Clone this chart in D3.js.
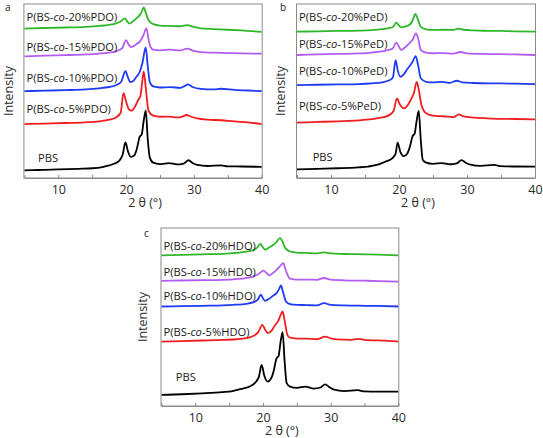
<!DOCTYPE html>
<html>
<head>
<meta charset="utf-8">
<script src="https://cdn.jsdelivr.net/npm/d3@7"></script>
<style>
  html, body { margin: 0; padding: 0; background: #fff; }
  svg { display: block; font-family: "Open Sans", "DejaVu Sans", sans-serif; }
</style>
</head>
<body>
<svg id="chart" width="543" height="438"></svg>
<script>
// ---------------- DATA ----------------
const panelIds = ["a", "b", "c"];
const seriesNames = ["PBS", "5", "10", "15", "20"];
const xTickValues = [5, 10, 15, 20, 25, 30, 35, 40];
const xTickLabels = [10, 20, 30, 40];
const xDomain = [5, 40];
const yDomain = [0, 100];

// Panel a: PDO copolymers  [2θ, intensity (stacked, a.u.)]
const a_PBS = [[5,4.4],[7,4.6],[10,4.9],[13,5.3],[15,5.6],[16.5,6.3],[17.5,7.2],[18.3,8.3],[19.0,10.0],[19.5,13.5],[19.9,20.4],[20.3,15.0],[20.7,12.1],[21.2,13.0],[21.6,17.0],[22.0,23.7],[22.3,25.0],[22.6,33],[22.9,38.7],[23.2,22],[23.5,11.7],[24.0,8.8],[25.0,8.0],[26.3,8.6],[27.5,7.8],[28.5,8.3],[29.2,10.2],[29.8,8.6],[30.5,7.5],[32,6.9],[34,7.3],[35,6.7],[37,6.6],[40,6.4]];
const a_5 = [[5,31.0],[8,31.3],[11,31.6],[14,32.0],[16,32.6],[17.5,33.5],[18.5,34.8],[19.2,37.5],[19.6,48.7],[20.0,44],[20.4,39.5],[20.8,38.7],[21.3,41],[21.8,45],[22.1,47],[22.4,56],[22.6,61.3],[22.9,52],[23.3,38.7],[24,35.8],[25,35.2],[26.5,35.3],[27.5,34.8],[28.3,35.3],[28.9,36.2],[29.6,35.2],[30.5,34.2],[32,33.5],[34,33.2],[36,32.5],[38,32.0],[40,31.0]];
const a_10 = [[5,49.9],[8,50.2],[11,50.5],[14,50.9],[16,51.5],[17.5,52.3],[18.5,53.3],[19.3,55.5],[19.9,61.4],[20.3,57.5],[20.6,55.1],[21.0,55.6],[21.5,58],[22.0,60.9],[22.4,66],[22.9,75.0],[23.2,64],[23.5,55.1],[24,52.6],[25,52.0],[26.5,52.2],[28,51.8],[28.6,52.8],[29.1,53.8],[29.8,52.3],[31,51.2],[33,50.9],[34,51.3],[36,50.6],[38,50.3],[40,49.9]];
const a_15 = [[5,69.9],[8,70.3],[11,70.6],[14,71.0],[16,71.5],[17.5,72.1],[18.5,72.8],[19.4,74.5],[20.0,79.2],[20.4,76.5],[20.7,75.3],[21.2,76],[21.6,77.2],[22.0,78.2],[22.5,81.5],[23.0,86.0],[23.3,80],[23.6,75.3],[24,73.8],[25,73.4],[26.5,73.8],[28,73.3],[29,74.4],[30,73.0],[31,72.3],[33,72.0],[35,71.8],[37,71.6],[40,71.5]];
const a_20 = [[5,85.9],[8,86.2],[11,86.5],[14,86.9],[16,87.4],[17.5,88.0],[18.5,88.8],[19.2,90.0],[19.8,91.7],[20.2,89.8],[20.5,88.8],[21.0,90.0],[21.5,91.7],[22.0,93.6],[22.3,95.5],[22.6,98.1],[22.9,95],[23.3,90.8],[24,88.4],[25,87.6],[26.5,87.4],[28,87.2],[29,87.9],[30,86.8],[31,86.0],[33,85.6],[35,85.2],[37,84.8],[40,84.0]];

// Panel b: PeD copolymers
const b_PBS = [[5,5.0],[8,5.3],[11,5.6],[14,6.1],[15.5,6.6],[17,7.8],[18,9.4],[19,11.3],[19.5,14],[19.8,20.3],[20.2,15],[20.7,12.6],[21.2,14],[21.6,18],[22.0,24.1],[22.3,25.5],[22.6,33],[22.9,38.5],[23.2,22],[23.5,10.3],[24,8.8],[25,8.1],[26.3,8.6],[27.5,7.9],[28.5,8.4],[29.2,10.3],[29.8,8.8],[30.5,7.7],[32,7.0],[34,7.5],[35,6.8],[37,6.6],[40,6.5]];
const b_5 = [[5,31.8],[8,32.2],[11,32.6],[14,33.1],[16,33.8],[17.5,34.8],[18.5,36],[19.2,38.5],[19.7,45.8],[20.1,42.5],[20.7,40.0],[21.3,42],[21.8,45.5],[22.2,49],[22.6,55.3],[22.9,51],[23.3,42.0],[24,37.2],[25,35.8],[26.5,35.5],[28,35.0],[28.8,36.6],[29.5,35.4],[31,34.7],[33,34.3],[35,34.0],[37,33.9],[40,33.7]];
const b_10 = [[5,53.4],[8,53.6],[11,53.8],[14,54.0],[16,54.4],[17.5,55.0],[18.5,56],[19.1,57.8],[19.5,67.8],[19.8,62],[20.2,58.2],[20.7,59.5],[21.2,62.5],[21.6,64.5],[22.0,66.8],[22.45,70.1],[22.8,65],[23.2,57.3],[24,55.3],[25,55.0],[26.3,55.3],[27.5,54.7],[28.5,55.9],[29.3,55.0],[31,54.6],[33,54.4],[35,54.4],[37,54.2],[40,54.0]];
const b_15 = [[5,70.7],[8,71.0],[11,71.3],[14,71.6],[16,72.1],[17.5,72.8],[18.5,73.6],[19.1,74.6],[19.6,77.8],[20.0,75.5],[20.3,73.6],[20.8,74.8],[21.5,77.4],[22.0,79.5],[22.5,83.1],[22.8,80.5],[23.2,73.6],[24,72.0],[25,71.7],[26.5,71.8],[28,71.5],[29,72.4],[30,71.6],[32,71.3],[35,71.2],[37,71.0],[40,70.7]];
const b_20 = [[5,84.1],[8,84.3],[11,84.5],[14,84.7],[16,85.0],[17.5,85.5],[18.5,86.1],[19.1,86.8],[19.6,89.3],[20.0,87.5],[20.3,86.6],[21.0,87.2],[21.6,88.2],[22.0,90.5],[22.4,94.3],[22.7,92],[23.2,86.9],[24,85.4],[25,85.1],[26.5,85.2],[28,85.1],[28.7,85.9],[29.5,85.2],[31,84.8],[33,84.6],[35,84.5],[37,84.3],[40,84.1]];

// Panel c: HDO copolymers
const c_PBS = [[5,6.2],[8,6.6],[11,7.1],[14,7.8],[15.5,8.4],[17,9.8],[18,10.9],[19,13.7],[19.4,16.5],[19.8,23.1],[20.2,17],[20.7,13.7],[21.2,15.5],[21.6,20],[22.0,26.8],[22.3,28],[22.6,36],[22.9,41.5],[23.2,25],[23.5,12.8],[24,10.9],[25,10.2],[26.3,10.9],[27.5,9.8],[28.5,10.4],[29.2,12.2],[29.8,10.6],[30.5,9.2],[32,8.4],[34,8.9],[35,8.2],[37,8.1],[40,8.1]];
const c_5 = [[5,36.2],[8,36.5],[11,36.8],[14,37.1],[16,37.5],[17.5,38.1],[18.5,39.2],[19.3,41.5],[19.9,45.6],[20.3,43],[20.7,40.9],[21.3,42.5],[21.8,45.5],[22.2,47.4],[22.6,51],[22.9,53.1],[23.2,48],[23.6,40.0],[24,38.4],[25,37.9],[26.5,37.8],[28,37.5],[29.2,39.0],[30,38.0],[31,37.4],[33,37.2],[34,37.7],[35.5,37.0],[38,36.7],[40,36.2]];
const c_10 = [[5,55.9],[8,56.1],[11,56.3],[14,56.5],[16,56.9],[17.5,57.4],[18.5,58.2],[19.2,59.6],[19.7,62.5],[20.0,60.5],[20.3,59.1],[20.9,60.2],[21.5,62.0],[22.0,63.4],[22.35,65.5],[22.65,67.7],[23.0,63.5],[23.4,58.7],[24,57.2],[25,56.8],[26.5,56.7],[28,56.5],[29,57.8],[30,56.8],[32,56.5],[35,56.3],[37,56.2],[40,55.9]];
const c_15 = [[5,70.3],[8,70.5],[11,70.7],[14,70.9],[16,71.3],[17.5,71.9],[18.5,72.7],[19.3,74.0],[20.1,76.0],[20.5,74.8],[20.9,73.4],[21.5,74.8],[22.0,76.5],[22.5,78.5],[23.0,80.3],[23.3,77],[23.7,73.1],[24,71.5],[25,71.0],[26.5,71.0],[28,70.9],[29,71.9],[30,71.0],[32,70.6],[35,70.4],[37,70.2],[40,69.9]];
const c_20 = [[5,84.6],[8,84.9],[11,85.2],[14,85.5],[16,86.0],[17.5,86.7],[18.5,87.6],[19.1,88.8],[19.6,91.0],[20.0,89.2],[20.3,87.8],[20.9,89.0],[21.5,90.5],[22.0,92.1],[22.5,94.3],[22.8,93],[23.3,88.7],[24,86.8],[25,86.2],[26.5,86.0],[28,85.8],[29,86.3],[30,85.7],[32,85.4],[35,85.2],[37,85.0],[40,84.6]];

const comonomers = ["PDO", "PeD", "HDO"];
const curveLabels_a = ["PBS", "P(BS-co-5%PDO)", "P(BS-co-10%PDO)", "P(BS-co-15%PDO)", "P(BS-co-20%PDO)"];
const curveLabels_b = ["PBS", "P(BS-co-5%PeD)", "P(BS-co-10%PeD)", "P(BS-co-15%PeD)", "P(BS-co-20%PeD)"];
const curveLabels_c = ["PBS", "P(BS-co-5%HDO)", "P(BS-co-10%HDO)", "P(BS-co-15%HDO)", "P(BS-co-20%HDO)"];
// label anchor values [2θ, intensity]
const labelPos_a = [[7.0, 11.5], [5.3, 39.5], [5.3, 57.5], [5.3, 75.5], [5.3, 92.5]];
const labelPos_b = [[7.3, 12.0], [5.3, 41.5], [5.3, 61.5], [5.3, 77.0], [5.3, 92.5]];
const labelPos_c = [[7.1, 16.0], [5.3, 41.5], [5.3, 61.5], [5.3, 75.5], [5.3, 90.0]];

const xTitle = "2 θ (°)";
const yTitle = "Intensity";

// ---------------- STYLE / LAYOUT ----------------
const colors = ["#000000", "#f01e1e", "#1f3af5", "#b35cf2", "#2fb72a"];
const frameColor = "#8a8a8a";
const layout = {
  a: { x0: 24.4, x1: 261.7, top: 4, bottom: 178, letter: [5, 11], ylab: [9, 91] },
  b: { x0: 297, x1: 535, top: 4, bottom: 178, letter: [280, 11], ylab: [281, 91] },
  c: { x0: 161.5, x1: 398.3, top: 228, bottom: 406, letter: [144, 237], ylab: [143, 317] }
};
const panelData = {
  a: { series: [a_PBS, a_5, a_10, a_15, a_20], labels: curveLabels_a, pos: labelPos_a },
  b: { series: [b_PBS, b_5, b_10, b_15, b_20], labels: curveLabels_b, pos: labelPos_b },
  c: { series: [c_PBS, c_5, c_10, c_15, c_20], labels: curveLabels_c, pos: labelPos_c }
};

const svg = d3.select("#chart");

panelIds.forEach(id => {
  const L = layout[id];
  const P = panelData[id];
  const x = d3.scaleLinear().domain(xDomain).range([L.x0, L.x1]);
  const y = d3.scaleLinear().domain(yDomain).range([L.bottom, L.top]);
  const g = svg.append("g");

  // curves
  const line = d3.line().x(d => x(d[0])).y(d => y(d[1])).curve(d3.curveMonotoneX);
  P.series.forEach((s, i) => {
    g.append("path").datum(s)
      .attr("d", line)
      .attr("fill", "none")
      .attr("stroke", colors[i])
      .attr("stroke-width", 1.8)
      .attr("stroke-linejoin", "round");
  });

  // frame
  g.append("rect")
    .attr("x", L.x0 - 0.5).attr("y", L.top)
    .attr("width", L.x1 - L.x0 + 1).attr("height", L.bottom - L.top)
    .attr("fill", "none").attr("stroke", frameColor).attr("stroke-width", 1);

  // x axis
  const ax = d3.axisBottom(x)
    .tickValues(xTickValues)
    .tickSizeInner(-3).tickSizeOuter(0).tickPadding(7)
    .tickFormat(d => xTickLabels.includes(d) ? String(d) : "");
  const axg = g.append("g").attr("transform", `translate(0,${L.bottom})`).call(ax);
  axg.select(".domain").attr("stroke", frameColor);
  axg.selectAll(".tick line").attr("stroke", frameColor);
  axg.selectAll(".tick text")
    .attr("font-size", 12.5).attr("fill", "#2a2a2a")
    .attr("font-family", "'Open Sans', sans-serif");

  // x title
  g.append("text")
    .attr("x", (L.x0 + L.x1) / 2 + 2).attr("y", L.bottom + 29)
    .attr("text-anchor", "middle").attr("font-size", 12.5).attr("fill", "#2a2a2a")
    .text(xTitle);

  // y title
  g.append("text")
    .attr("transform", `translate(${L.ylab[0]},${L.ylab[1]}) rotate(-90)`)
    .attr("text-anchor", "middle").attr("font-size", 12.5).attr("fill", "#2a2a2a")
    .attr("dy", "0.35em")
    .text(yTitle);

  // panel letter
  g.append("text")
    .attr("x", L.letter[0]).attr("y", L.letter[1])
    .attr("font-size", 10).attr("fill", "#222")
    .text(id);

  // curve labels
  P.labels.forEach((lab, i) => {
    const t = g.append("text")
      .attr("x", x(P.pos[i][0])).attr("y", y(P.pos[i][1]))
      .attr("dy", "0.35em")
      .attr("font-size", 11.2).attr("fill", "#1a1a1a");
    const m = lab.match(/^(P\(BS-)(co)(-.*)$/);
    if (m) {
      t.append("tspan").text(m[1]);
      t.append("tspan").attr("font-style", "italic").text(m[2]);
      t.append("tspan").text(m[3]);
    } else {
      t.text(lab);
    }
  });
});
</script>
</body>
</html>
